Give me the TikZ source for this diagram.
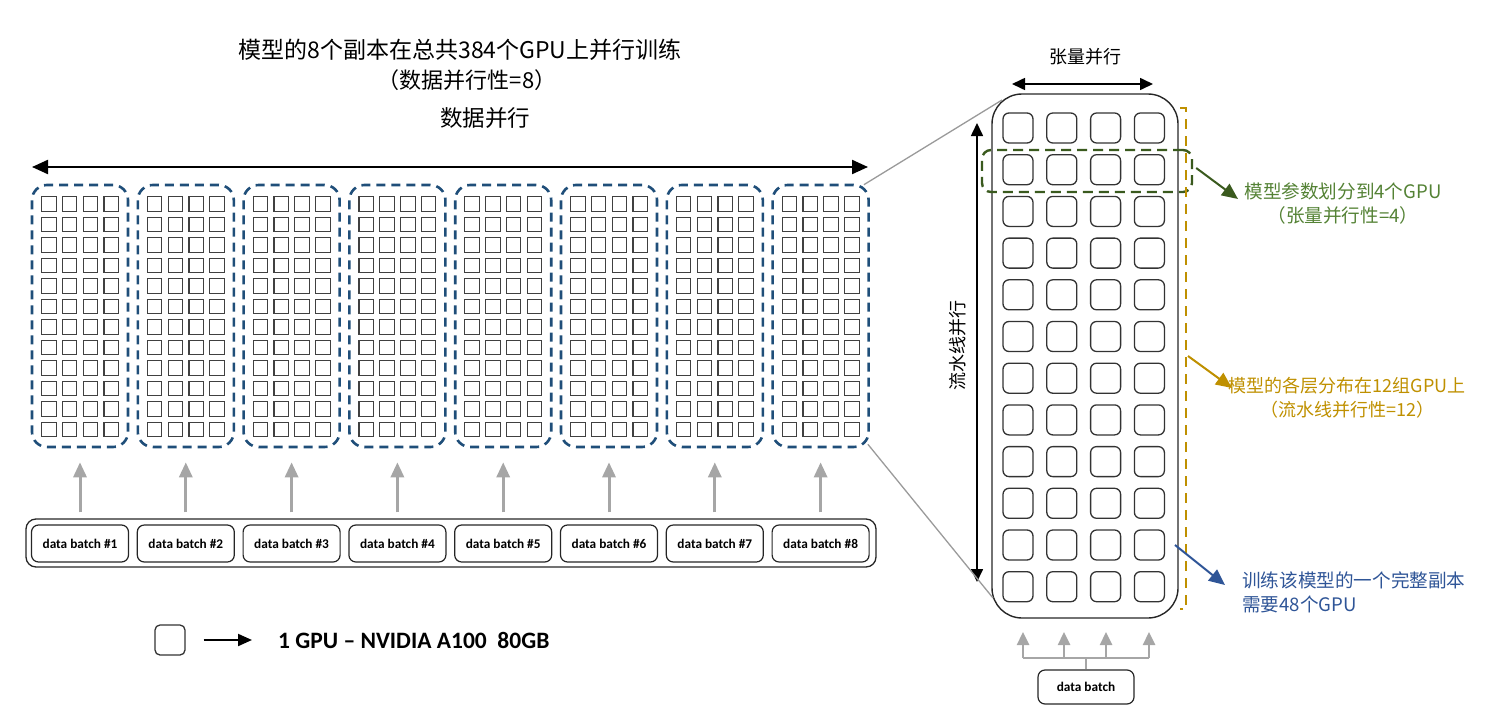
\documentclass[tikz,border=0pt]{standalone}
\usepackage{fontspec}
\setmainfont{Carlito}
\newfontfamily\cjk{Noto Sans CJK SC}
\usetikzlibrary{arrows.meta}
\definecolor{blkblue}{HTML}{1F4E79}
\definecolor{gdark}{HTML}{3A5A1E}
\definecolor{gtext}{HTML}{548235}
\definecolor{goldc}{HTML}{BF9000}
\definecolor{bblue}{HTML}{2F5597}
\definecolor{arrgray}{HTML}{A6A6A6}
\definecolor{lgray}{HTML}{9A9A9A}
\begin{document}
\begin{tikzpicture}[x=1pt,y=-1pt,
  gpu/.style={draw=black!75, line width=1.1pt, minimum size=14.5pt, inner sep=0pt},
  bigpu/.style={draw=black!80, line width=1.3pt, minimum size=30pt, inner sep=0pt, rounded corners=6pt},
  blk/.style={draw=blkblue, dash pattern=on 9pt off 6pt, line width=2.6pt, rounded corners=15pt, minimum width=96pt, minimum height=262pt, inner sep=0pt},
  batch/.style={draw=black!85, line width=1.2pt, rounded corners=7pt, minimum width=97pt, minimum height=37pt, inner sep=0pt, font=\fontsize{13.3}{15}\selectfont\bfseries},
  grayarrow/.style={draw=arrgray, line width=3pt, -{Triangle[width=13pt,length=15pt]}},
  smallgray/.style={draw=arrgray, line width=2.5pt},
  blackdbl/.style={draw=black, line width=2.2pt, {Triangle[width=14pt,length=16pt]}-{Triangle[width=14pt,length=16pt]}},
  thindbl/.style={draw=black, line width=1.6pt, {Triangle[width=12pt,length=13pt]}-{Triangle[width=12pt,length=13pt]}},
  cjktxt/.style={font=\cjk\fontsize{18.6}{24}\selectfont, inner sep=0pt},
  callout/.style={line width=2pt, -{Triangle[width=14pt,length=16pt]}}
]
\useasboundingbox (0,0) rectangle (1502,712);

% titles
\node[font=\cjk\fontsize{23}{27}\selectfont, inner sep=0pt] (title) at (460,50) {模型的8个副本在总共384个GPU上并行训练};
\node[font=\cjk\fontsize{22}{27}\selectfont, inner sep=0pt] (title2) at (467,80) {（数据并行性=8）};
\node[font=\cjk\fontsize{22.5}{27}\selectfont, inner sep=0pt] (dp) at (485,118) {数据并行};

\coordinate (dpl) at (32,167);
\coordinate (dpr) at (868,167);
\draw[blackdbl] (dpl) -- (dpr);

% container of batches
\node[draw=black!85, line width=1.3pt, rounded corners=10pt, minimum width=850pt, minimum height=48pt, inner sep=0pt] (cont) at (451,543) {};

\foreach \i in {1,...,8} {
  \pgfmathsetmacro\cx{80+105.8*(\i-1)}
  \node[blk] (blk\i) at (\cx,316) {};
  \foreach \r in {0,...,11} {
    \foreach \c in {0,...,3} {
      \node[gpu] (g\i-\r-\c) at ({\cx-31.2+20.8*\c},{204+20.5*\r}) {};
    }
  }
  \node[batch] (batch\i) at (\cx,543.5) {data batch \#\i};
  \draw[grayarrow] ([yshift=12pt]batch\i.north) -- ([yshift=-14pt]blk\i.south);
}

% legend
\node[draw=black!80, line width=1.3pt, rounded corners=5pt, minimum size=30pt, inner sep=0pt] (leg) at (170,640) {};
\node[font=\fontsize{23.5}{27}\selectfont\bfseries, anchor=west, inner sep=0pt] (legt) at (278,640) {1 GPU – NVIDIA A100\ \ 80GB};
\draw[line width=2pt, -{Triangle[width=12pt,length=14pt]}] ([xshift=18pt]leg.east) -- ([xshift=-26pt]legt.west);

% right panel
\node[draw=black!85, line width=1.4pt, rounded corners=30pt, minimum width=186pt, minimum height=524pt, inner sep=0pt] (panel) at (1085,356) {};
\foreach \r in {0,...,11} {
  \foreach \c in {0,...,3} {
    \node[bigpu] (h\r-\c) at ({1018+43.8*\c},{128+41.7*\r}) {};
  }
}

% tensor parallel arrow
\node[cjktxt, font=\cjk\fontsize{18}{24}\selectfont] (tp) at (1085,57) {张量并行};
\coordinate (tpl) at (1012,84);
\coordinate (tpr) at (1153,84);
\draw[thindbl] (tpl) -- (tpr);

% pipeline arrow
\node[cjktxt, font=\cjk\fontsize{18}{24}\selectfont, rotate=90] (pp) at (958,345) {流水线并行};
\coordinate (ppt) at (977,123);
\coordinate (ppb) at (977,582);
\draw[thindbl] (ppt) -- (ppb);

% zoom connector lines
\coordinate (z1) at (1002,100);
\coordinate (z2) at (993,598);
\draw[lgray, line width=1.3pt] ([xshift=-6pt,yshift=-1pt]blk8.north east) -- (z1);
\draw[lgray, line width=1.3pt] ([xshift=-2pt,yshift=4pt]blk8.south east) -- (z2);

% green dashed group
\node[draw=gdark, dash pattern=on 10pt off 6pt, line width=2.4pt, rounded corners=9pt, minimum width=210pt, minimum height=42pt, inner sep=0pt] (gbox) at (1087,171) {};

% gold bracket
\coordinate (gb1) at (1180,108);
\coordinate (gb2) at (1186,108);
\coordinate (gb3) at (1186,609);
\coordinate (gb4) at (1180,609);
\draw[goldc, dash pattern=on 10pt off 7pt, line width=2.2pt] (gb1) -- (gb2) -- (gb3) -- (gb4);

% callouts
\node[cjktxt, text=gtext, align=center] (gtxt) at (1343,204) {模型参数划分到4个GPU\\（张量并行性=4）};
\coordinate (gtip) at (1238,199);
\draw[callout, gdark] ([xshift=3pt,yshift=3pt]gbox.east) -- (gtip);

\node[cjktxt, text=goldc, align=center, font=\cjk\fontsize{18}{24}\selectfont] (otxt) at (1347,398) {模型的各层分布在12组GPU上\\（流水线并行性=12）};
\coordinate (ostart) at (1188,356);
\coordinate (otip) at (1232,388);
\draw[callout, goldc] (ostart) -- (otip);

\node[cjktxt, text=bblue, align=left, anchor=west] (btxt) at (1242,592) {训练该模型的一个完整副本\\需要48个GPU};
\coordinate (bstart) at (1175,545);
\coordinate (btip) at (1225,585);
\draw[callout, bblue] (bstart) -- (btip);

% right data batch
\node[batch, minimum width=96pt, minimum height=34pt, font=\fontsize{13.3}{15}\selectfont\bfseries] (dbr) at (1086,687) {data batch};
\coordinate (hb) at (1086,658);
\draw[smallgray] (dbr.north) -- (hb);
\coordinate (hl) at (1023,658);
\coordinate (hr) at (1149,658);
\draw[smallgray] (hl) -- (hr);
\foreach \k/\xx in {1/1023,2/1064,3/1106,4/1149} {
  \coordinate (ha\k) at (\xx,658);
  \coordinate (ht\k) at (\xx,632);
  \draw[smallgray, -{Triangle[width=12pt,length=13pt]}] (ha\k) -- (ht\k);
}
\end{tikzpicture}
\end{document}
